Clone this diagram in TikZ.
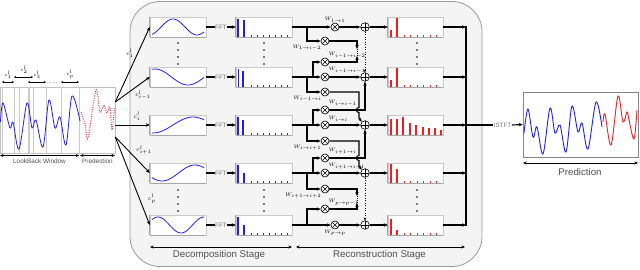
\documentclass[tikz,border=0pt]{standalone}
\usepackage{fontspec}
\usepackage{amsmath,amssymb}
\usetikzlibrary{arrows.meta}
\newfontfamily\lblfont{Liberation Sans}
\definecolor{panelfill}{HTML}{F4F4F4}
\definecolor{paneldraw}{HTML}{9A9A9A}
\definecolor{boxgray}{HTML}{A6A6A6}
\definecolor{sigblue}{HTML}{1E1EF2}
\definecolor{sigred}{HTML}{F21E1E}
\definecolor{txtgray}{HTML}{505050}
\tikzset{
  panel/.style={draw=paneldraw, fill=panelfill, line width=0.8pt, rounded corners=30pt},
  axisline/.style={draw=boxgray, line width=1pt},
  plotbox/.style={draw=boxgray!60, fill=white, line width=0.4pt, minimum width=56pt, minimum height=20pt, inner sep=0pt,
    append after command={(\tikzlastnode.north west) edge[axisline] (\tikzlastnode.south west)
      (\tikzlastnode.south west) edge[axisline] (\tikzlastnode.south east)}},
  bigbox/.style={draw=boxgray!80!black, fill=white, line width=0.6pt, inner sep=0pt},
  guide/.style={draw=boxgray!60, line width=0.35pt},
  sigline/.style={draw=sigblue, line width=0.8pt},
  predline/.style={draw=sigred, line width=0.9pt},
  preddot/.style={draw=sigred, line width=0.9pt, dash pattern=on 1pt off 1.3pt},
  bluebar/.style={draw=sigblue, line width=1.2pt},
  bluetick/.style={draw=sigblue, line width=0.8pt},
  redbar/.style={draw=sigred, line width=1.1pt},
  redtick/.style={draw=sigred, line width=0.8pt},
  wire/.style={line width=1.1pt},
  conn/.style={-{Stealth[length=4pt,width=3.4pt]}, line width=1.1pt},
  dotlink/.style={-{Stealth[length=3pt,width=2.6pt]}, line width=0.9pt, dash pattern=on 0.9pt off 1.6pt},
  mul/.style={circle, draw, line width=0.6pt, fill=white, minimum size=8pt, inner sep=0pt,
    path picture={\draw[line width=0.6pt] (path picture bounding box.north west) -- (path picture bounding box.south east)
      (path picture bounding box.north east) -- (path picture bounding box.south west);}},
  add/.style={circle, draw, line width=0.6pt, fill=white, minimum size=8.6pt, inner sep=0pt,
    path picture={\draw[line width=0.6pt] (path picture bounding box.north) -- (path picture bounding box.south)
      (path picture bounding box.west) -- (path picture bounding box.east);}},
  wlbl/.style={font=\fontsize{5}{6}\selectfont, inner sep=0.5pt},
  clbl/.style={font=\fontsize{6.5}{7}\selectfont, inner sep=0pt},
  cslbl/.style={font=\fontsize{5.5}{6}\selectfont, inner sep=0pt},
  fftlbl/.style={font=\lblfont\fontsize{6.3}{7}\selectfont, text=txtgray!80, inner sep=0.4pt},
  smalltxt/.style={font=\lblfont\fontsize{6.4}{7}\selectfont, text=txtgray, inner sep=0pt},
  stagetxt/.style={font=\lblfont\fontsize{9.7}{11}\selectfont, text=txtgray, inner sep=0pt},
  dimarr/.style={{Stealth[length=3.5pt,width=3pt]}-{Stealth[length=3.5pt,width=3pt]}, line width=0.9pt},
  tinyarr/.style={{Stealth[length=2pt,width=2pt]}-{Stealth[length=2pt,width=2pt]}, line width=0.5pt},
}
\begin{document}
\begin{tikzpicture}[x=1pt,y=-1pt]
  \useasboundingbox (0,0) rectangle (640,269);
  % panel behind the two stages
  \draw[panel] (130,1.5) rectangle (482,266.5);

  % input window
  \node[bigbox, draw=boxgray!70, minimum width=115pt, minimum height=66pt] (inbox) at (57.5,120) {};
  \draw[guide] (1.7,87) -- (1.7,153);
  \draw[guide] (14.3,87) -- (14.3,153);
  \draw[guide] (19.3,87) -- (19.3,153);
  \draw[guide] (27.7,87) -- (27.7,153);
  \draw[guide] (29.3,87) -- (29.3,153);
  \draw[guide] (33.3,87) -- (33.3,153);
  \draw[guide] (45.7,87) -- (45.7,153);
  \draw[guide] (61,87) -- (61,153);
  \draw[guide] (79.3,87) -- (79.3,153);
  \draw[sigline] plot[smooth, tension=0.55] coordinates {(0.5,122) (3,103) (10,128) (13,122) (19,149) (27,103) (32,128) (36,120) (43,147) (49,100) (55,128) (60,117) (66,145) (72,96) (80,121)};
  \draw[preddot] plot[smooth, tension=0.55] coordinates {(81,112) (85,124) (88,138) (96,90) (100,112) (104,105) (107,113) (110,107) (112,130) (114.5,108)};
  \draw[tinyarr] (2,82) -- (14,82);
  \node[cslbl] (w1) at (8,75) {$c^{l}_{1}$};
  \draw[tinyarr] (14,77) -- (33,77);
  \node[cslbl] (w2) at (24,70) {$c^{l}_{2}$};
  \draw[tinyarr] (28,82) -- (46,82);
  \node[cslbl] (w3) at (37,75) {$c^{l}_{3}$};
  \draw[guide, dotted, line width=0.6pt] (47,82) -- (60,82);
  \draw[tinyarr] (61,82) -- (79,82);
  \node[cslbl] (wp) at (70,74) {$c^{l}_{p}$};
  \draw[dimarr, line width=0.7pt] (0,155.5) -- (79.3,155.5);
  \node[smalltxt] (lbw) at (39.5,161.5) {LookBack Window};
  \draw[dimarr, line width=0.7pt] (80,155.5) -- (115,155.5);
  \node[smalltxt] (prd) at (97.5,161.5) {Predection};

  % decomposition: signal boxes and FFT spectra
  \node[plotbox] (s1) at (178,27) {};
  \node[plotbox] (s2) at (178,77) {};
  \node[plotbox] (s3) at (178,125) {};
  \node[plotbox] (s4) at (178,173) {};
  \node[plotbox] (s5) at (178,225) {};
  \draw[sigline] plot[domain=152:204, samples=40] (\x,{27-8*sin((\x-161)/48*360)});
  \draw[sigline] plot[domain=152:204, samples=40] (\x,{77-8*cos((\x-155)/66*360)});
  \draw[sigline] plot[domain=152:204, samples=40] (\x,{125-8*cos((\x-193)/80*360)});
  \draw[sigline] plot[domain=152:204, samples=40] (\x,{173+8*cos((\x-162)/66*360)});
  \draw[sigline] plot[domain=152:204, samples=40] (\x,{225-8*cos((\x-158)/46*360)});
  \node[fftlbl] (t1) at (221,27) {FFT};
  \node[fftlbl] (t2) at (221,77) {FFT};
  \node[fftlbl] (t3) at (221,125) {FFT};
  \node[fftlbl] (t4) at (221,173) {FFT};
  \node[fftlbl] (t5) at (221,225) {FFT};
  \node[plotbox] (f1) at (264,27) {};
  \node[plotbox] (f2) at (264,77) {};
  \node[plotbox] (f3) at (264,125) {};
  \node[plotbox] (f4) at (264,173) {};
  \node[plotbox] (f5) at (264,225) {};
  \draw[bluebar] (238,37) -- ++(0,-18);
  \draw[bluebar] (244,37) -- ++(0,-17);
  \draw[bluebar] (238.5,87) -- ++(0,-18);
  \draw[bluebar] (243,87) -- ++(0,-16);
  \draw[bluebar] (238,135) -- ++(0,-18);
  \draw[bluebar] (243,135) -- ++(0,-15);
  \draw[bluebar] (238,183) -- ++(0,-18);
  \draw[bluebar] (244,183) -- ++(0,-10);
  \draw[bluebar] (238,235) -- ++(0,-18);
  \draw[bluebar] (244,235) -- ++(0,-10);
  \foreach \yb in {37,87,135,183,235}
    \foreach \t in {251,257,...,287}
      \draw[bluetick] (\t,\yb) -- ++(0,-1.6);
  \draw[wire] (s1.east) -- (t1.west);
  \draw[conn] (t1.east) -- (f1.west);
  \draw[wire] (s2.east) -- (t2.west);
  \draw[conn] (t2.east) -- (f2.west);
  \draw[wire] (s3.east) -- (t3.west);
  \draw[conn] (t3.east) -- (f3.west);
  \draw[wire] (s4.east) -- (t4.west);
  \draw[conn] (t4.east) -- (f4.west);
  \draw[wire] (s5.east) -- (t5.west);
  \draw[conn] (t5.east) -- (f5.west);
  \foreach \x in {178,264,417}
    \foreach \y in {43,50,57,64,190,197,204,211}
      \fill (\x,\y) circle (0.9pt);

  % inputs to the decomposition
  \coordinate (o1) at ([yshift=18pt]inbox.east);
  \coordinate (o2) at ([yshift=-5pt]inbox.east);
  \coordinate (o3) at ([yshift=-17pt]inbox.east);
  \draw[conn, line width=0.9pt] (o1) -- (s1.west);
  \draw[conn, line width=0.9pt] (o1) -- (s2.west);
  \draw[conn, line width=0.9pt] (o2) -- (s3.west);
  \draw[conn, line width=0.9pt] (o3) -- (s4.west);
  \draw[conn, line width=0.9pt] (o3) -- (s5.west);
  \node[clbl] (cl1) at (130,53) {$c^{l}_{1}$};
  \node[clbl] (cl2) at (143,95) {$c^{l}_{i-1}$};
  \node[clbl] (cl3) at (137,116.5) {$c^{l}_{i}$};
  \node[clbl] (cl4) at (144,150) {$c^{l}_{i+1}$};
  \node[clbl] (cl5) at (152,199) {$c^{l}_{p}$};

  % reconstruction: weights and sums
  \node[mul, label={[wlbl]above:$W_{1\to 1}$}] (m11) at (335,27) {};
  \node[mul, label={[wlbl]below left:$W_{1\to i-2}$}] (m12) at (325,41) {};
  \node[mul, label={[wlbl]above right:$W_{i-1\to i-2}$}] (m21) at (325,62) {};
  \node[mul, label={[wlbl]above right:$W_{i-1\to i-1}$}] (m22) at (325,77) {};
  \node[mul, label={[wlbl]below left:$W_{i-1\to i}$}] (m23) at (325,92) {};
  \node[mul, label={[wlbl]above right:$W_{i\to i-1}$}] (m31) at (325,110) {};
  \node[mul, label={[wlbl]above right:$W_{i\to i}$}] (m32) at (325,125) {};
  \node[mul, label={[wlbl]below left:$W_{i\to i+1}$}] (m33) at (325,141) {};
  \node[mul, label={[wlbl]above right:$W_{i+1\to i}$}] (m41) at (325,158) {};
  \node[mul, label={[wlbl]above right:$W_{i+1\to i+1}$}] (m42) at (325,173) {};
  \node[mul, label={[wlbl]below left:$W_{i+1\to i+2}$}] (m43) at (325,189) {};
  \node[mul, label={[wlbl]above right:$W_{p\to p-1}$}] (m51) at (325,209) {};
  \node[mul, label={[wlbl]below:$W_{p\to p}$}] (m52) at (335,225) {};
  \node[add] (a1) at (365,27) {};
  \node[add] (a2) at (365,77) {};
  \node[add] (a3) at (365,125) {};
  \node[add] (a4) at (365,173) {};
  \node[add] (a5) at (365,225) {};
  \node[plotbox, minimum width=55pt] (r1) at (415.5,27) {};
  \node[plotbox, minimum width=55pt] (r2) at (415.5,77) {};
  \node[plotbox, minimum width=55pt] (r3) at (415.5,125) {};
  \node[plotbox, minimum width=55pt] (r4) at (415.5,173) {};
  \node[plotbox, minimum width=55pt] (r5) at (415.5,225) {};
  \draw[redbar] (391,37) -- ++(0,-7);
  \draw[redbar] (397,37) -- ++(0,-19);
  \draw[redbar] (391,87) -- ++(0,-7);
  \draw[redbar] (397,87) -- ++(0,-19);
  \draw[redbar] (391,183) -- ++(0,-19);
  \draw[redbar] (397,183) -- ++(0,-14);
  \draw[redbar] (391,235) -- ++(0,-16);
  \draw[redbar] (397,235) -- ++(0,-5);
  \foreach \t/\h in {391/16,397/16,403/18,410/12,416/10,423/8,429/7,435/7,441/5}
    \draw[redbar] (\t,135) -- ++(0,-\h);
  \foreach \yb in {37,87,183,235}
    \foreach \t in {404,410.5,...,441}
      \draw[redtick] (\t,\yb) -- ++(0,-1.8);

  % row 1
  \coordinate (b1) at (307,27);
  \draw[conn] (f1.east) -- (m11.west);
  \draw[conn] (b1) |- (m12.west);
  \draw[conn] (m11.east) -- (a1.west);
  \draw[conn] (a1.east) -- (r1.west);
  % row i-1
  \coordinate (b2u) at (313,77);
  \coordinate (b2d) at (307,77);
  \draw[conn] (f2.east) -- (m22.west);
  \draw[conn] (b2u) |- (m21.west);
  \draw[conn] (b2d) |- (m23.west);
  \draw[conn] (m22.east) -- (a2.west);
  \draw[conn] (a2.east) -- (r2.west);
  % row i
  \coordinate (b3u) at (313,125);
  \coordinate (b3d) at (307,125);
  \draw[conn] (f3.east) -- (m32.west);
  \draw[conn] (b3u) |- (m31.west);
  \draw[conn] (b3d) |- (m33.west);
  \draw[conn] (m32.east) -- (a3.west);
  \draw[conn] (a3.east) -- (r3.west);
  % row i+1
  \coordinate (b4u) at (313,173);
  \coordinate (b4d) at (307,173);
  \draw[conn] (f4.east) -- (m42.west);
  \draw[conn] (b4u) |- (m41.west);
  \draw[conn] (b4d) |- (m43.west);
  \draw[conn] (m42.east) -- (a4.west);
  \draw[conn] (a4.east) -- (r4.west);
  % row p
  \coordinate (b5) at (307,225);
  \draw[conn] (f5.east) -- (m52.west);
  \draw[conn] (b5) |- (m51.west);
  \draw[conn] (m52.east) -- (a5.west);
  \draw[conn] (a5.east) -- (r5.west);

  % cross-row terms
  \coordinate (d1) at (357,49);
  \coordinate (d2) at (357,56);
  \draw[conn] (m12.east) -| (d1);
  \draw[conn] (m21.east) -| (d2);
  \draw[line width=0.9pt, dash pattern=on 0.9pt off 1.2pt] (d1) -- (d2);
  \draw[conn] (m23.east) -- (359,92) -- (359,107.5) .. controls (355.5,107.5) and (355.5,112.5) .. (359,112.5) -- (359,118) -- (a3.north west);
  \draw[conn] (m31.east) -| (a2.south);
  \draw[conn] (m33.east) -- (359,141) -- (359,155.5) .. controls (355.5,155.5) and (355.5,160.5) .. (359,160.5) -- (359,166) -- (a4.north west);
  \draw[conn] (m41.east) -| (a3.south);
  \coordinate (d3) at (357,196);
  \coordinate (d4) at (357,203);
  \draw[conn] (m43.east) -| (d3);
  \draw[conn] (m51.east) -| (d4);
  \draw[line width=0.9pt, dash pattern=on 0.9pt off 1.2pt] (d3) -- (d4);
  \draw[dotlink] (a1.south) -- (a2.north);
  \draw[dotlink] (a4.south) -- (a5.north);

  % collect and invert
  \coordinate (c1) at (466,27);
  \coordinate (c2) at (466,77);
  \coordinate (c3) at (466,125);
  \coordinate (c4) at (466,173);
  \coordinate (c5) at (466,225);
  \draw[conn] (r1.east) -- (c1);
  \draw[conn] (r2.east) -- (c2);
  \draw[conn] (r3.east) -- (c3);
  \draw[conn] (r4.east) -- (c4);
  \draw[conn] (r5.east) -- (c5);
  \draw[line width=1.5pt, line cap=rect] (c1) -- (c5);
  \node[fftlbl] (ist) at (502.5,125) {ISTFT};
  \node[bigbox, minimum width=115pt, minimum height=65pt] (outbox) at (580.5,124.5) {};
  \draw[wire] (c3) -- (ist.west);
  \draw[conn] (ist.east) -- (outbox.west);
  \draw[sigline, line width=0.9pt] plot[smooth, tension=0.55] coordinates {(524,133) (528,109) (533,137) (537,127) (543,154) (550,108) (555,133) (560,125) (566,152) (572,106) (578,132) (582,123) (588,149) (596,102) (602,127)};
  \draw[predline] plot[smooth, tension=0.55] coordinates {(603,122) (605,114) (611,145) (618,96) (623,122) (627,112) (629,120) (634,139) (637,110)};
  \coordinate (pl) at (523,163);
  \coordinate (pr) at (638,163);
  \draw[dimarr] (pl) -- (pr);
  \node[stagetxt] (plbl) at (580,172.5) {Prediction};

  % stage spans
  \coordinate (dl) at (150,247);
  \coordinate (dr) at (292,247);
  \coordinate (rl) at (296,247);
  \coordinate (rr) at (465,247);
  \draw[dimarr] (dl) -- (dr);
  \draw[dimarr] (rl) -- (rr);
  \node[stagetxt] (dlbl) at (219,255) {Decomposition Stage};
  \node[stagetxt] (rlbl) at (379.5,255) {Reconstruction Stage};
\end{tikzpicture}
\end{document}
